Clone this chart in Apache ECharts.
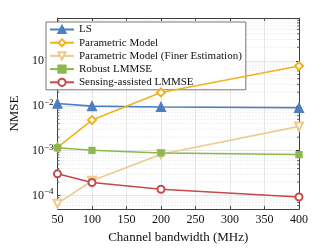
<!DOCTYPE html>
<html><head><meta charset="utf-8">
<script src="https://cdn.jsdelivr.net/npm/echarts@6/dist/echarts.min.js"></script>
<style>html,body{margin:0;padding:0;background:#fff}#c{width:332px;height:249px}</style>
</head><body><div id="c"></div>
<script>
const bandwidth = [50, 100, 200, 400];
const lsVals = [0.0112, 0.0098, 0.0094, 0.0090];
const paramVals = [0.00118, 0.0048, 0.0198, 0.077];
const finerVals = [0.000066, 0.000214, 0.00083, 0.00347];
const robustVals = [0.00116, 0.00102, 0.00089, 0.00082];
const sensingVals = [0.000305, 0.000195, 0.000138, 0.000093];
const seriesNames = ['LS', 'Parametric Model', 'Parametric Model (Finer Estimation)', 'Robust LMMSE', 'Sensing-assisted LMMSE'];
const xTicks = [50, 100, 150, 200, 250, 300, 350, 400];
const yMin = 5e-5, yMax = 0.9;
const minorY = [];
for (let e = -5; e <= -1; e++) for (let m = 2; m <= 9; m++) { const v = m * Math.pow(10, e); if (v > yMin && v < yMax) minorY.push(v); }

const FONT = '"Liberation Serif","DejaVu Serif",serif';
const AX = '#404040';
const pair = a => bandwidth.map((x, i) => [x, a[i]]);

const chart = echarts.init(document.getElementById('c'), null, {renderer: 'canvas'});
function mk(name, data, color, symbol, size, rotate, fill) {
  return {
    name, type: 'line', data: pair(data), symbol, symbolSize: size, symbolRotate: rotate || 0,
    lineStyle: {color, width: 1.6}, itemStyle: {color: fill || color, borderColor: color, borderWidth: 1.3},
    z: 5, animation: false
  };
}
chart.setOption({
  animation: false,
  grid: {left: 44, right: 33, top: 18, bottom: 32},
  legend: {
    data: seriesNames, orient: 'vertical', left: 46, top: 22,
    backgroundColor: '#fff', borderColor: '#555', borderWidth: 0.8,
    padding: [2, 4, 2, 3], itemWidth: 24, itemHeight: 9, itemGap: 2.2,
    textStyle: {fontFamily: FONT, fontSize: 11, color: '#111'}
  },
  xAxis: [{
    type: 'value', min: 50, max: 400, interval: 50,
    name: 'Channel bandwidth (MHz)', nameLocation: 'middle', nameGap: 19,
    nameTextStyle: {fontFamily: FONT, fontSize: 13, color: '#111'},
    axisLine: {show: true, lineStyle: {color: AX, width: 1}},
    axisTick: {show: true, inside: true, length: 3, lineStyle: {color: AX}},
    axisLabel: {fontFamily: FONT, fontSize: 12, color: '#111', margin: 5},
    splitLine: {show: true, lineStyle: {color: '#e6e6e6', width: 1}}
  }, {
    type: 'value', min: 50, max: 400, interval: 50, position: 'top',
    axisLine: {show: true, lineStyle: {color: AX, width: 1}},
    axisTick: {show: true, inside: true, length: 3, lineStyle: {color: AX}},
    axisLabel: {show: false}, splitLine: {show: false}
  }],
  yAxis: [{
    type: 'log', logBase: 10, min: yMin, max: yMax,
    name: 'NMSE', nameLocation: 'middle', nameGap: 27,
    nameTextStyle: {fontFamily: FONT, fontSize: 13, color: '#111'},
    axisLine: {show: true, lineStyle: {color: AX, width: 1}},
    axisTick: {show: true, inside: true, length: 3, lineStyle: {color: AX}},
    axisLabel: {
      margin: 4,
      formatter: v => {
        const l = Math.log10(v);
        if (Math.abs(l - Math.round(l)) > 1e-6) return '';
        const k = Math.round(l);
        return '{b|10}{s|' + (k < 0 ? '\u2212' + (-k) : k) + '}';
      },
      rich: {
        b: {fontFamily: FONT, fontSize: 12, color: '#111'},
        s: {fontFamily: FONT, fontSize: 9, color: '#111', padding: [0, 0, 7, 0]}
      }
    },
    splitLine: {show: true, lineStyle: {color: '#e6e6e6', width: 1}}
  }, {
    type: 'log', logBase: 10, min: yMin, max: yMax, position: 'right',
    axisLine: {show: true, lineStyle: {color: AX, width: 1}},
    axisTick: {show: true, inside: true, length: 3, lineStyle: {color: AX}},
    axisLabel: {show: false}, splitLine: {show: false}
  }],
  series: [
    {
      type: 'custom', silent: true, z: 1, animation: false,
      data: minorY.map(v => [50, v]),
      renderItem: (params, api) => {
        const v = api.value(1);
        const p0 = api.coord([50, v]), p1 = api.coord([400, v]);
        return {
          type: 'group', children: [
            {type: 'line', shape: {x1: p0[0], y1: p0[1], x2: p1[0], y2: p1[1]},
             style: {stroke: '#d8d8d8', lineWidth: 0.8, lineDash: [1, 2]}},
            {type: 'line', shape: {x1: p0[0], y1: p0[1], x2: p0[0] + 2, y2: p0[1]},
             style: {stroke: AX, lineWidth: 0.8}},
            {type: 'line', shape: {x1: p1[0] - 2, y1: p1[1], x2: p1[0], y2: p1[1]},
             style: {stroke: AX, lineWidth: 0.8}}
          ]
        };
      }
    },
    mk(seriesNames[0], lsVals, '#4C7FC0', 'triangle', 9, 0),
    mk(seriesNames[1], paramVals, '#F0B222', 'emptyDiamond', 8, 0),
    mk(seriesNames[2], finerVals, '#EBCB8E', 'emptyTriangle', 8, 180),
    mk(seriesNames[3], robustVals, '#8DB84E', 'rect', 6, 0),
    mk(seriesNames[4], sensingVals, '#C6494B', 'emptyCircle', 7, 0)
  ]
});
</script></body></html>
